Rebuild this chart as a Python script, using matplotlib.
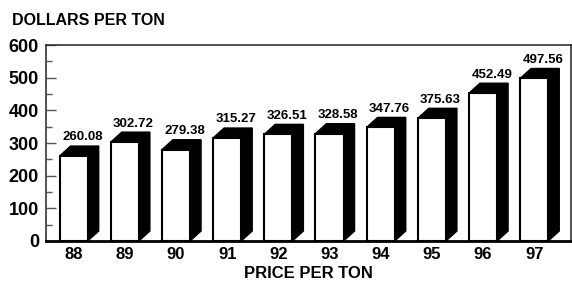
import matplotlib.pyplot as plt
from matplotlib.patches import Polygon, Rectangle
from matplotlib.ticker import MultipleLocator

years = [88, 89, 90, 91, 92, 93, 94, 95, 96, 97]
prices = [260.08, 302.72, 279.38, 315.27, 326.51, 328.58, 347.76, 375.63, 452.49, 497.56]
year_labels = ["88", "89", "90", "91", "92", "93", "94", "95", "96", "97"]

plt.rcParams['font.family'] = ['Liberation Sans', 'DejaVu Sans']
plt.rcParams['font.weight'] = 'bold'

fig = plt.figure(figsize=(5.72, 2.85), dpi=100)
ax = fig.add_axes([0.0804, 0.1544, 0.9179, 0.6876])

width = 0.55
dx = 0.215   # depth to the right (data units)
dy = 30.6    # depth upwards (data units)

for x, h in zip(years, prices):
    x0 = x - width / 2
    x1 = x + width / 2
    # right side face
    side = Polygon([(x1, 0), (x1 + dx, dy), (x1 + dx, h + dy), (x1, h)],
                   closed=True, facecolor='black', edgecolor='black', lw=1, zorder=2)
    # top face
    top = Polygon([(x0, h), (x0 + dx, h + dy), (x1 + dx, h + dy), (x1, h)],
                  closed=True, facecolor='black', edgecolor='black', lw=1, zorder=2)
    front = Rectangle((x0, 0), width, h, facecolor='white', edgecolor='black',
                      lw=1.5, zorder=3)
    ax.add_patch(side)
    ax.add_patch(top)
    ax.add_patch(front)
    ax.text(x + 0.17, h + dy + 8, f"{h:.2f}", ha='center', va='bottom',
            fontsize=9.5, fontweight='bold')

ax.set_xlim(87.46, 97.72)
ax.set_ylim(0, 600)
ax.set_xticks(years)
ax.set_xticklabels(year_labels)
ax.yaxis.set_major_locator(MultipleLocator(100))
ax.yaxis.set_minor_locator(MultipleLocator(50))

ax.tick_params(axis='y', which='major', direction='in', length=7, width=1,
               color='#555555', labelsize=13, pad=5)
ax.tick_params(axis='y', which='minor', direction='in', length=4, width=1,
               color='#555555')
ax.tick_params(axis='x', which='major', direction='in', length=5, width=1,
               color='#777777', labelsize=12, pad=4)
for lab in ax.get_xticklabels() + ax.get_yticklabels():
    lab.set_fontweight('bold')

for side_name in ['left', 'top', 'right']:
    ax.spines[side_name].set_color('#333333')
    ax.spines[side_name].set_linewidth(1.2)
ax.spines['bottom'].set_color('black')
ax.spines['bottom'].set_linewidth(2)

ax.set_xlabel("PRICE PER TON", fontsize=12, fontweight='bold', labelpad=3)
fig.text(0.021, 1 - 25 / 285, "DOLLARS PER TON", ha='left', va='baseline',
         fontsize=11.5, fontweight='bold')

fig.savefig("out.png", dpi=100)
